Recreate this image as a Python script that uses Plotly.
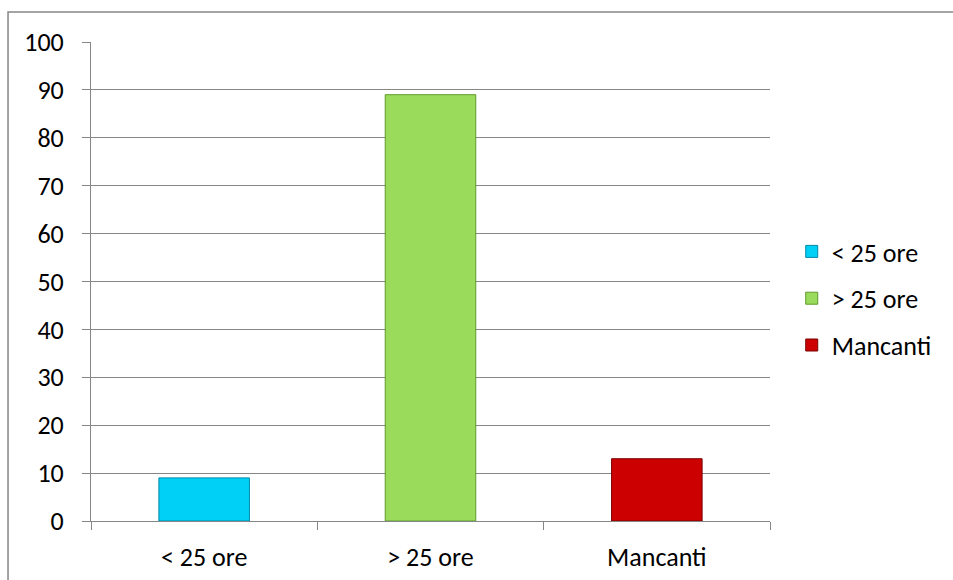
import plotly.graph_objects as go

categories = ["< 25 ore", "> 25 ore", "Mancanti"]
values = [9, 89, 13]
colors = ["#00D0F6", "#9BDB5B", "#CC0000"]
edge_colors = ["#0088A8", "#5E9A2A", "#7A0000"]
y_ticks = [0, 10, 20, 30, 40, 50, 60, 70, 80, 90, 100]

FONT = "Carlito, Lato, sans-serif"

fig = go.Figure()
for cat, val, col, ec in zip(categories, values, colors, edge_colors):
    fig.add_trace(go.Bar(
        x=[cat], y=[val], name=cat, legendgroup=cat,
        marker=dict(color=col, line=dict(color=ec, width=1)),
        width=0.4,
    ))

fig.update_layout(
    width=953, height=580,
    margin=dict(l=91, r=183, t=42, b=59),
    paper_bgcolor="white", plot_bgcolor="white",
    barmode="overlay",
    font=dict(family=FONT, size=26, color="black"),
    showlegend=True,
    legend=dict(x=1.032, y=0.4645, xanchor="left", yanchor="middle",
                tracegroupgap=10, font=dict(size=26, family=FONT),
                itemwidth=30),
    xaxis=dict(
        categoryorder="array", categoryarray=categories,
        showline=True, linecolor="#868686", linewidth=1,
        ticks="outside", tickson="boundaries", ticklen=8, tickcolor="#868686",
        showgrid=False, ticklabelstandoff=13, automargin=False,
        tickfont=dict(size=26, family=FONT),
    ),
    yaxis=dict(
        range=[0, 100], tickvals=y_ticks,
        showline=True, linecolor="#868686", linewidth=1,
        ticks="outside", ticklen=8, tickcolor="#868686",
        showgrid=True, gridcolor="#868686", gridwidth=1,
        zeroline=False, ticklabelstandoff=13, automargin=False,
        tickfont=dict(size=26, family=FONT),
    ),
    shapes=[dict(type="rect", xref="paper", yref="paper",
                 x0=-0.1222, x1=1.3, y0=-0.3, y1=1.0626,
                 line=dict(color="#868686", width=1.5), fillcolor="rgba(0,0,0,0)",
                 layer="below")],
)

fig.write_html("out.html",
               config={"displayModeBar": False},
               post_script="document.body.style.margin='0';document.body.style.overflow='hidden';")
